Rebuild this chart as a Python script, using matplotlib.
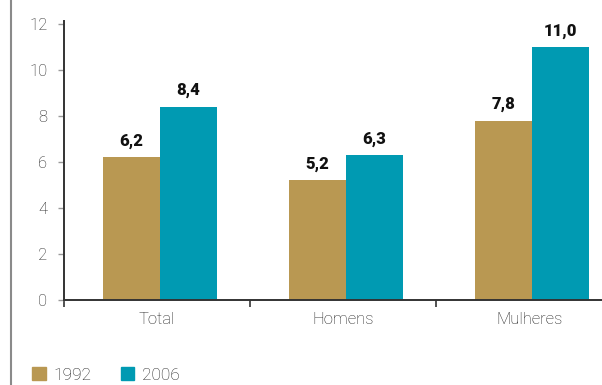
import matplotlib
matplotlib.use("Agg")
import matplotlib.pyplot as plt
import numpy as np
from matplotlib.lines import Line2D
from matplotlib.patches import Patch

# Data
categories = ["Total", "Homens", "Mulheres"]
years = ["1992", "2006"]
values_1992 = [6.2, 5.2, 7.8]
values_2006 = [8.4, 6.3, 11.0]
value_labels_1992 = ["6,2", "5,2", "7,8"]
value_labels_2006 = ["8,4", "6,3", "11,0"]
y_ticks = [0, 2, 4, 6, 8, 10, 12]

colors = ["#B99852", "#009AB2"]

plt.rcParams['font.family'] = ['Roboto', 'DejaVu Sans']

fig = plt.figure(figsize=(6.02, 3.85), dpi=100)
ax = fig.add_axes([64 / 602, 1 - 300 / 385, 1 - 64 / 602, (300 - 21) / 385])

x = np.arange(len(categories))
w = 0.305
shift = 0.016
b1 = ax.bar(x + shift - w / 2, values_1992, w, color=colors[0])
b2 = ax.bar(x + shift + w / 2, values_2006, w, color=colors[1])

# value labels above bars
for bars, labels in [(b1, value_labels_1992), (b2, value_labels_2006)]:
    for rect, lab in zip(bars, labels):
        ax.annotate(lab, (rect.get_x() + rect.get_width() / 2, rect.get_height()),
                    xytext=(0, 6), textcoords="offset points", ha="center", va="bottom",
                    fontsize=12, fontweight="heavy", color="#111111")

ax.set_xlim(-0.5, 2.392)
ax.set_ylim(0, 12.13)
ax.set_yticks(y_ticks)
ax.set_yticklabels([str(t) for t in y_ticks])
ax.set_xticks(x)
ax.set_xticklabels(categories)
ax.set_xticks([-0.5, 0.5, 1.5], minor=True)
ax.tick_params(axis="x", which="major", length=0, pad=9, labelsize=12, labelcolor="#222222")
ax.tick_params(axis="x", which="minor", length=5, width=1.2, color="#333333", direction="out")
ax.tick_params(axis="y", length=4, width=1, color="#999999", pad=8, labelsize=12, labelcolor="#222222")

for s in ["top", "right"]:
    ax.spines[s].set_visible(False)
for s in ["left", "bottom"]:
    ax.spines[s].set_color("#333333")
    ax.spines[s].set_linewidth(1.4)

for t in ax.get_xticklabels() + ax.get_yticklabels():
    t.set_fontweight("light")

# left border line
fig.add_artist(Line2D([11 / 602, 11 / 602], [0, 1], transform=fig.transFigure,
                      color="#8a8a8a", lw=1.5))

handles = [Patch(color=c, label=y) for c, y in zip(colors, years)]
leg = fig.legend(handles=handles, loc="lower left", bbox_to_anchor=(0.028, -0.035),
                 ncol=2, frameon=False, handlelength=0.75, handleheight=0.75,
                 handletextpad=0.45, columnspacing=1.7, fontsize=12.5)
for t in leg.get_texts():
    t.set_color("#222222")
    t.set_fontweight("light")

fig.savefig("out.png", dpi=100)
